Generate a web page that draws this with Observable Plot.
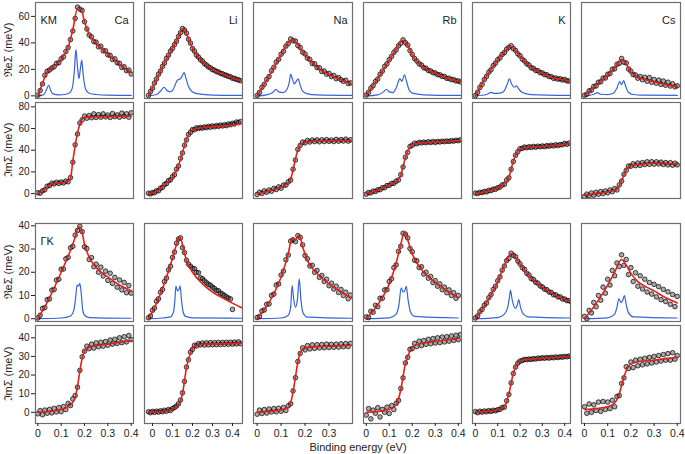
<!DOCTYPE html>
<html><head><meta charset="utf-8">
<script src="https://cdn.jsdelivr.net/npm/d3@7"></script>
<script src="https://cdn.jsdelivr.net/npm/@observablehq/plot@0.6"></script>
<style>
body{margin:0;background:#fff;}
#chart{position:relative;width:685px;height:454px;font-family:"Liberation Sans",Arial,Helvetica,sans-serif;color:#222;overflow:hidden;}
.ylab{position:absolute;width:120px;height:14px;line-height:14px;text-align:center;font-size:11px;transform:rotate(-90deg);}
.xlab{position:absolute;width:200px;text-align:center;font-size:11px;}
</style>
</head><body><div id="chart"></div>
<script>
// ---------- categories / ticks ----------
const elements = ["Ca","Li","Na","Rb","K","Cs"];
const directions = ["KM","ΓK"];
const xStart = [0,-0.02,0,0,0,0];
const xStep = 0.01;
const xDomains = [[-0.01,0.41],[-0.04,0.45],[-0.015,0.398],[-0.012,0.414],[-0.013,0.426],[-0.013,0.414]];
const yDomains = [[-2,70.5],[-4.5,84],[-1.2,41],[-6,46.6]];
const yTicks = [[0,20,40,60],[0,20,40,60,80],[0,10,20,30,40],[0,10,20,30,40]];
const xTicks = [[0,0.1,0.2,0.3,0.4],[0,0.1,0.2,0.3,0.4],[0,0.1,0.2,0.3],[0,0.1,0.2,0.3,0.4],[0,0.1,0.2,0.3,0.4],[0,0.1,0.2,0.3,0.4]];
const yLabels = ["ℜeΣ (meV)","ℑmΣ (meV)","ℜeΣ (meV)","ℑmΣ (meV)"];
const xLabel = "Binding energy (eV)";

// ---------- data points (step 0.01 from xStart) ----------
// KM, real part
const reKM_Ca = [0.5,4,9,15.5,18.5,19.5,21,22,24.5,25,28,29.5,33.5,36.5,42.5,49,58.5,67,65.5,64.5,56,50.5,46,44.5,41,40.5,37,37.5,34,34,31,30.5,27.5,28,25,24.5,21.5,22,19,19.5,16.5];
const reKM_Li = [0.3,3.2,5.8,9.7,12.8,16.3,18.8,22.2,24.8,28.3,30.7,33.8,35.8,38.7,41.3,44.8,47.7,50.8,49.7,47.3,42.8,39.8,35.7,33.7,30.8,29.2,27.3,26.2,24.3,23.2,21.8,21.2,19.8,19.4,18.3,18,17,16.7,15.8,15.5,14.6,14.4,13.3,13.2,12.4,12.1,11.4];
const reKM_Na = [0.3,2.6,6.4,8.7,12.4,14.6,18.9,21.6,25.5,27.6,31.4,33.6,37.5,39.6,43,41.6,41.4,38,36.5,33,31.6,28.5,27.5,24.4,24.2,21.4,21.2,18.4,18.8,16.4,17,14.6,15.4,13,13.8,12.2,11,11.8,9.3,9.8];
const reKM_Rb = [0.6,2.7,5.8,7.7,10.8,12.7,16.3,18.7,22.3,24.2,27.3,29.7,32.8,34.7,37.8,39.7,42.3,40.2,38.3,34.2,31.3,28.2,26.3,24.2,23.3,21.2,20.8,19.2,18.8,17.5,17.3,16,15.9,14.7,14.6,13.2,13.3,12.2,12.3,11.2,11.3,10.5];
const reKM_K  = [0.2,2.7,6.3,8.7,12.3,14.7,17.8,19.7,22.8,24.7,27.3,28.7,31.3,32.7,35.3,36.7,37.8,35.7,34.3,31.7,30.3,27.7,26.3,24.2,23.3,21.2,20.8,19.2,19,17.5,17.3,16,15.9,14.6,14.5,13.2,13.5,12.6,12.9,12,12.4,11.3,11.2];
const reKM_Cs = [0.4,1.2,3.8,4.3,7.1,7.5,10.3,10.6,13.4,13.5,16.3,16.8,20.1,20.4,23.8,24.6,28.2,25.4,24.8,20.3,18.6,16,15.8,13.3,14.6,12.2,14,11.1,13.8,10.2,12.4,9.5,11.9,8.6,11.2,8,10.3,7.4,9.1,6.8,7.6];
// KM, imaginary part
const imKM_Ca = [0.8,0.4,2.6,3.5,6.8,7.4,9.6,9,10.5,9.4,10.7,9.8,11.6,10.9,14.8,29,45,55,65,68,71.5,69.5,72,70,73.5,70.2,72.8,70.5,73.5,70.8,72.4,70.2,73.8,71,72.6,70.4,74.2,71.3,73.6,70.5,74.5];
const imKM_Li = [0.4,-0.3,1,0.8,2.7,2.6,5,5.8,8.5,9.3,12,12.7,15.6,17.5,22.5,25.5,32.6,37.5,44.6,49.5,54.5,56.6,59,58.9,60.6,60,61,60.4,61.4,60.8,62,61.2,62.4,61.6,62.7,62,63.2,62.4,63.5,62.7,64.2,63.5,64.8,64.2,66,65.4,66.4];
const imKM_Na = [-0.8,1.3,0.2,2.5,1.3,3.4,2.2,4.8,3.8,6.2,5,7.9,7.8,10.8,12.5,22.5,31,40.8,44.5,47.5,46.8,49,47.6,49.4,48,49.5,47.8,49.6,48,49.8,48.2,49.4,48,50,48.3,49.8,48.5,50.2,48.4,49.6];
const imKM_Rb = [-0.5,1,0.7,2.3,2,3.5,3.6,5.4,5.5,7.5,7.6,9.4,9.5,11.4,12.6,17.5,24.6,33.5,38,43.4,44.6,46.5,46,47.3,46.8,47.5,46.9,47.8,47.1,48,47.2,48.1,47.6,48.3,47.9,48.5,48.1,48.8,48.4,49.2,48.8,49.6];
const imKM_K  = [0.5,0.1,1.2,0.9,2,1.6,3,2.8,4.2,4,5.4,6,8,8.6,12.5,14.6,22.4,29.6,35.4,38.6,41.4,41.7,42.9,42.3,43.2,42.6,43.5,42.8,43.7,43.1,43.9,43.3,44.2,43.7,44.6,44,45,44.3,45.3,45,46.3,45.5,46.6];
const imKM_Cs = [-2.5,-0.5,-2,0.6,-1.5,1.2,-0.6,1.9,0,2.4,0.8,3.4,1.8,4.6,3.4,8,11.5,17.8,21.5,25.4,25.3,27.5,25.8,28.2,26,28.6,26.8,29.3,27,29.4,27.2,29.3,27.4,29,26.9,28.6,26.5,28.5,26.2,28,26.5];
// ΓK, real part
const reGK_Ca = [0.3,1.5,4.4,4.8,8.2,8.5,12.3,12.6,16.6,17,21.3,21.4,25.8,26.4,30.5,31.2,36,38,39.8,37.5,31,30.2,25.5,26.3,22.4,23.5,20,22.2,18.4,20.5,16.5,19.6,15.2,17.8,13.6,16.7,12.4,15.6,11.2,14.3,11];
const reGK_Li = [0.4,1.2,3.6,4.6,7.5,8.6,11.4,12.6,16,17.5,21,22.6,26.4,28.7,32.5,34.3,34.8,30.6,28.5,25.2,23.5,22.6,21.7,21.5,20,19.8,17.6,17.2,16.3,15.5,14.8,14.4,13.6,13,12.2,12,11,10.6,10,9.4,8.9,8.5,4];
const reGK_Na = [0.5,1,3.3,3.8,6.2,6.4,10,10.6,14.5,15,18.8,20.5,25.4,27.4,33.4,34,33.2,35.8,35,31.8,27.2,25.8,22.7,23,20,20.8,17.8,18.6,16,17,14.2,15.3,12.8,14,11.3,12.6,10,11.4,8.6,10.2];
const reGK_Rb = [0.8,0.5,3.2,2.8,5.8,5.2,8.8,8.8,12.4,12.5,16,17.2,22,23.2,29,31.2,36.8,36.4,34.8,30.2,28.8,25.2,24.9,22,22.4,19.2,20,17.4,18.2,15.6,16.4,14,15,12.5,13.6,11.2,12.4,10,11.2,8.8,10];
const reGK_K  = [0.3,1.2,3,4,5.8,6.8,9,10.4,12.6,14,16.3,18,20.9,22.7,25,26,28.2,27.3,26.7,24.8,23.6,22,21.2,19.6,18.8,17.3,16.9,15.7,15.3,14.1,13.7,12.7,12.5,11.5,11.3,10.3,10.3,9.4,9.4,8.5,8.5,7.8,7.8,7.1];
const reGK_Cs = [1,0,3.6,2.5,7,5.2,10,8,13.6,11,17,14.5,20.8,18.5,24,22.5,27.5,23,25.5,19,22,16,19.8,14,18.5,12.8,17,11.5,15.6,10.6,14.8,9.4,13.8,8.2,12.6,7.4,11.6,6.2,10.4,5.2,9.6];
// ΓK, imaginary part
const imGK_Ca = [-0.8,0.9,-1.3,1.2,-0.5,1.6,-0.3,2.1,0.2,2.6,0.4,3.1,1.5,4.8,3.6,7.2,9,13.5,22.5,29.8,32.8,35.5,34.2,36.6,34.5,37.3,35.2,37.6,35.5,38,36,38.8,36.6,39.2,37,40,37.4,40.6,37.8,41.2,39];
const imGK_Li = [0.3,-0.2,0.5,0,0.6,0.1,0.8,0.3,1.1,0.6,1.5,1,2,2.6,3.4,4.6,6.6,10.5,16.6,24.3,28.2,32.3,33.8,36,35.6,36.9,36.2,37.2,36.1,37.3,36.2,37.4,36.3,37.4,36.3,37.5,36.4,37.5,36.5,37.6,36.5,37.6,36.6,37.7,36.7,37.8,36.8];
const imGK_Na = [-1,1.2,-0.6,1.5,-0.4,1.8,0.2,2,0.3,2.2,0.6,2.6,1,3.5,4.6,11.5,18.6,27.3,31.6,34.6,33.5,35.8,34,36.2,34.3,36.3,34.6,36.4,34.7,36.6,34.8,36.5,34.9,36.6,35,36.8,35.2,36.9,35.3,37];
const imGK_Rb = [-1.5,2,-3.5,1.2,-0.5,2.5,-2.5,1.6,0,2.8,-0.6,3.6,1.5,4.8,6.4,12.8,18.5,26.5,29.5,33.8,34.2,37,35.3,38.2,35.8,38.5,36.5,39.2,36.8,39.6,37.2,40,37.4,40.4,37.8,40.6,38.2,41,38.6,41.4,39,41.8];
const imGK_K  = [0.4,-0.2,0.6,0.1,0.7,0.3,0.9,0.5,1.1,0.8,1.4,1.6,2.6,2.8,6.2,9.6,15.8,20.8,24.3,26.4,27.5,27.8,28.4,28.3,28.6,28.4,28.8,28.6,29.1,28.9,29.3,29,29.4,29.1,29.5,29.3,29.7,29.4,29.8,29.6,30,29.8,30.2,30];
const imGK_Cs = [3,-0.5,4.5,0,4,1,5.5,0.5,5.8,1.5,5.5,2,6.5,3,8.5,9,15.5,18.5,24.5,23.5,27,24,28,25,28.5,25.5,29,26,29.5,26.5,30,27,30.5,27.5,31,28,31.5,28,32,28.5,30.5];

// ---------- red fits [energy, meV] ----------
const fitReKM_Ca = [[0,0],[0.02,9.5],[0.04,18],[0.06,21],[0.1,27.5],[0.13,37],[0.15,50],[0.17,66],[0.185,65.5],[0.2,56],[0.22,46.5],[0.25,40],[0.3,31.5],[0.35,24],[0.4,17.5]];
const fitReKM_Li = [[-0.02,0],[0,6],[0.05,22],[0.1,36],[0.13,44.5],[0.15,50.5],[0.16,50],[0.18,43],[0.2,36],[0.22,31],[0.25,26],[0.3,20],[0.35,16.5],[0.4,13.5],[0.45,11]];
const fitReKM_Na = [[0,0],[0.05,15],[0.1,31],[0.13,40],[0.145,42.5],[0.16,41],[0.18,36],[0.2,31],[0.23,25],[0.27,19],[0.3,16],[0.35,12],[0.4,8.5]];
const fitReKM_Rb = [[0,0.5],[0.05,13],[0.1,27],[0.13,35],[0.16,42],[0.18,38],[0.2,31],[0.22,26],[0.25,21.5],[0.3,17],[0.35,13.5],[0.41,10.7]];
const fitReKM_K  = [[0,0],[0.05,15],[0.1,27],[0.13,33],[0.158,37.5],[0.17,36],[0.2,30],[0.22,26],[0.25,21.5],[0.3,17],[0.35,13.5],[0.4,12],[0.43,10.8]];
const fitReKM_Cs = [[0,0],[0.05,8],[0.1,15.5],[0.13,21],[0.16,27.5],[0.18,24],[0.2,18],[0.23,14],[0.27,12],[0.3,10.5],[0.35,8.5],[0.4,7]];
const fitImKM_Ca = [[0,0],[0.03,4],[0.06,9],[0.1,10],[0.13,11.5],[0.14,14],[0.15,30],[0.16,44],[0.17,56],[0.18,64],[0.19,69],[0.21,70.5],[0.3,71],[0.4,71.5]];
const fitImKM_Li = [[-0.02,0],[0,0.5],[0.03,3],[0.06,8],[0.1,15],[0.13,26],[0.15,38],[0.17,50],[0.19,57],[0.22,60],[0.3,61.5],[0.4,63],[0.45,64.8]];
const fitImKM_Na = [[0,0],[0.05,2.5],[0.1,6],[0.13,10],[0.14,13],[0.15,22],[0.16,32],[0.17,40],[0.18,45],[0.2,47.5],[0.25,48.5],[0.4,49]];
const fitImKM_Rb = [[0,0],[0.05,3],[0.1,8],[0.13,11],[0.15,17],[0.17,33],[0.19,43],[0.21,46],[0.3,47.5],[0.41,49]];
const fitImKM_K  = [[0,0],[0.05,2],[0.1,5],[0.13,9],[0.15,15],[0.17,30],[0.19,39],[0.21,42],[0.3,43.5],[0.43,46]];
const fitImKM_Cs = [[0,-1.5],[0.05,0],[0.1,1.5],[0.14,4],[0.16,12],[0.18,22],[0.2,26],[0.25,27],[0.3,28],[0.4,27]];
const fitReGK_Ca = [[0,0],[0.05,9],[0.1,20],[0.14,29.5],[0.16,35],[0.175,39.5],[0.185,39],[0.2,32],[0.22,26.5],[0.25,22],[0.3,18],[0.35,14.5],[0.4,12]];
const fitReGK_Li = [[-0.02,0],[0,3],[0.05,13],[0.1,26],[0.12,32],[0.133,35],[0.145,33.5],[0.16,28],[0.18,23],[0.2,20],[0.25,15],[0.3,11.5],[0.35,9],[0.4,6.7],[0.45,4.5]];
const fitReGK_Na = [[0,0],[0.05,7],[0.1,18],[0.13,28],[0.145,34.5],[0.16,34],[0.175,36],[0.19,31],[0.21,25],[0.25,19.5],[0.3,15],[0.35,11.5],[0.4,8.5]];
const fitReGK_Rb = [[0,0],[0.05,6],[0.1,15],[0.13,24],[0.15,32],[0.167,37.5],[0.18,34],[0.2,28],[0.22,24],[0.25,20],[0.3,15.5],[0.35,12],[0.4,9]];
const fitReGK_K  = [[0,0],[0.05,7],[0.1,16],[0.13,23],[0.16,28],[0.18,26.5],[0.2,23.5],[0.22,21],[0.25,17.5],[0.3,13.5],[0.35,10.5],[0.4,8.3],[0.43,7.3]];
const fitReGK_Cs = [[0,0],[0.05,6.5],[0.1,14.5],[0.13,20],[0.16,25.5],[0.18,23],[0.2,19.5],[0.23,16],[0.27,13.5],[0.3,12],[0.35,9],[0.4,6.8]];
const fitImGK_Ca = [[0,0],[0.05,0.5],[0.1,1.5],[0.14,4],[0.16,8],[0.17,14],[0.18,22],[0.19,29],[0.2,33],[0.22,35],[0.3,36.5],[0.4,38.5]];
const fitImGK_Li = [[-0.02,0],[0.05,0.3],[0.1,1.5],[0.13,4],[0.15,10],[0.17,24],[0.19,32],[0.21,35.5],[0.25,36.5],[0.45,37]];
const fitImGK_Na = [[0,0],[0.05,0.5],[0.1,1.3],[0.13,2.5],[0.14,5],[0.15,11],[0.16,19],[0.17,27],[0.18,32],[0.19,34],[0.22,35],[0.3,35.5],[0.4,36]];
const fitImGK_Rb = [[0,0],[0.05,0.5],[0.1,1.5],[0.13,4],[0.15,12],[0.17,26],[0.19,33],[0.21,36],[0.3,38],[0.4,39.5]];
const fitImGK_K  = [[0,0],[0.05,0.5],[0.1,1.2],[0.13,3],[0.15,10],[0.17,21],[0.19,26.5],[0.21,28],[0.3,29],[0.43,30]];
const fitImGK_Cs = [[0,1.5],[0.05,2],[0.1,3],[0.13,5],[0.15,10],[0.17,19],[0.19,25],[0.21,26.5],[0.3,28],[0.4,29.5]];

// ---------- blue curves (real-part panels) ----------
const blueKM_Ca = [[0,0],[0.02,0.5],[0.03,2],[0.04,6],[0.047,8],[0.055,4],[0.065,1.5],[0.09,0.8],[0.12,1.2],[0.14,3],[0.15,8],[0.157,20],[0.163,35],[0.17,22],[0.176,13],[0.182,20],[0.188,27],[0.195,15],[0.205,5],[0.22,2],[0.25,1],[0.3,0.5],[0.4,0.3]];
const blueKM_Li = [[-0.02,0],[0.02,1],[0.04,3.5],[0.058,6.5],[0.07,4.5],[0.085,3],[0.1,4],[0.115,9],[0.125,12],[0.135,12.5],[0.145,14],[0.158,17.5],[0.168,13],[0.18,7],[0.2,3],[0.23,1.5],[0.3,0.6],[0.45,0.3]];
const blueKM_Na = [[0,0],[0.04,0.8],[0.065,2.5],[0.079,5],[0.09,3],[0.11,2.5],[0.125,5],[0.135,11],[0.14,16.5],[0.147,13],[0.155,9],[0.163,11],[0.171,12.8],[0.18,8],[0.19,3.5],[0.21,1.5],[0.25,0.7],[0.4,0.3]];
const blueKM_Rb = [[0,0],[0.05,0.8],[0.075,3],[0.088,5],[0.1,3],[0.115,2.5],[0.13,6],[0.14,11],[0.146,13],[0.155,11],[0.166,15.8],[0.175,11],[0.185,5],[0.2,2],[0.25,0.8],[0.41,0.3]];
const blueKM_K  = [[0,0],[0.05,1],[0.07,2.7],[0.085,1.8],[0.11,2],[0.13,4],[0.143,9],[0.152,12.8],[0.162,9],[0.174,6.5],[0.184,7.5],[0.195,5],[0.21,2.5],[0.25,1],[0.43,0.3]];
const blueKM_Cs = [[0,0],[0.04,1.2],[0.055,2.5],[0.07,1.2],[0.1,1],[0.125,2],[0.14,6],[0.152,10.7],[0.16,8.5],[0.169,11.5],[0.178,7],[0.19,2.5],[0.21,1],[0.25,0.5],[0.4,0.3]];
const blueGK_Ca = [[0,0],[0.1,0.3],[0.14,1.2],[0.155,4],[0.163,10],[0.168,14.5],[0.174,14],[0.18,15.2],[0.186,11],[0.192,4],[0.2,1.5],[0.22,0.5],[0.4,0.2]];
const blueGK_Li = [[-0.02,0],[0.05,0.3],[0.09,0.8],[0.105,3],[0.112,8],[0.117,14],[0.125,12],[0.132,12.5],[0.138,14.2],[0.145,8],[0.153,3],[0.165,1],[0.2,0.4],[0.45,0.2]];
const blueGK_Na = [[0,0],[0.1,0.3],[0.13,1.5],[0.14,5],[0.146,14.3],[0.152,9],[0.16,5],[0.168,8],[0.176,17.2],[0.183,8],[0.192,2.5],[0.21,0.7],[0.4,0.2]];
const blueGK_Rb = [[0,0],[0.1,0.4],[0.13,2],[0.142,6],[0.152,13.3],[0.16,11.5],[0.167,12],[0.174,13.9],[0.182,8],[0.192,3],[0.21,1],[0.4,0.3]];
const blueGK_K  = [[0,0],[0.1,0.5],[0.13,2],[0.145,5],[0.152,9],[0.157,12.2],[0.165,8],[0.178,4.5],[0.188,6],[0.194,8.2],[0.202,5],[0.215,2],[0.24,0.8],[0.43,0.3]];
const blueGK_Cs = [[0,0],[0.1,0.4],[0.13,2],[0.14,5],[0.148,8.6],[0.158,7],[0.165,8],[0.172,10],[0.18,6],[0.19,2.5],[0.21,0.8],[0.4,0.3]];

// ---------- assemble ----------
const dataRows = [
  [reKM_Ca,reKM_Li,reKM_Na,reKM_Rb,reKM_K,reKM_Cs],
  [imKM_Ca,imKM_Li,imKM_Na,imKM_Rb,imKM_K,imKM_Cs],
  [reGK_Ca,reGK_Li,reGK_Na,reGK_Rb,reGK_K,reGK_Cs],
  [imGK_Ca,imGK_Li,imGK_Na,imGK_Rb,imGK_K,imGK_Cs]];
const fitRows = [
  [fitReKM_Ca,fitReKM_Li,fitReKM_Na,fitReKM_Rb,fitReKM_K,fitReKM_Cs],
  [fitImKM_Ca,fitImKM_Li,fitImKM_Na,fitImKM_Rb,fitImKM_K,fitImKM_Cs],
  [fitReGK_Ca,fitReGK_Li,fitReGK_Na,fitReGK_Rb,fitReGK_K,fitReGK_Cs],
  [fitImGK_Ca,fitImGK_Li,fitImGK_Na,fitImGK_Rb,fitImGK_K,fitImGK_Cs]];
const blueRows = [
  [blueKM_Ca,blueKM_Li,blueKM_Na,blueKM_Rb,blueKM_K,blueKM_Cs], null,
  [blueGK_Ca,blueGK_Li,blueGK_Na,blueGK_Rb,blueGK_K,blueGK_Cs], null];

// layout (pixels)
const colL = [35,144,253,363,472,581], colR = [133,242,352,461,570,680];
const rowT = [2,102,223,325], rowB = [98,198,321,423];
const font = '"Liberation Sans", Arial, Helvetica, sans-serif';
const chart = document.getElementById("chart");
const fmtX = d => d === 0 ? "0" : String(d);

for (let r = 0; r < 4; r++) {
  for (let c = 0; c < 6; c++) {
    const mL = c === 0 ? 35 : 0, mB = r === 3 ? 24 : 0;
    const w = colR[c] - colL[c], h = rowB[r] - rowT[r];
    const pts = dataRows[r][c].map((v, i) => ({e: xStart[c] + i * xStep, v}));
    const marks = [];
    if (blueRows[r]) marks.push(Plot.line(blueRows[r][c], {x: d => d[0], y: d => d[1], stroke: "#3563dc", strokeWidth: 1.2, curve: "monotone-x", clip: true}));
    marks.push(Plot.dot(pts, {x: "e", y: "v", r: 2.3, stroke: "#000", strokeWidth: 0.8, strokeOpacity: 0.9, fill: "#444", fillOpacity: 0.45, clip: true}));
    marks.push(Plot.line(fitRows[r][c], {x: d => d[0], y: d => d[1], stroke: "#e3211c", strokeWidth: 1.6, curve: "monotone-x", clip: true}));
    marks.push(Plot.frame({stroke: "#6e6e6e", strokeWidth: 1.2}));
    if (c === 0) marks.push(Plot.axisY({ticks: yTicks[r], tickSize: 4, tickPadding: 2, fontSize: 10, label: null}));
    if (r === 3) marks.push(Plot.axisX({ticks: xTicks[c], tickFormat: fmtX, tickSize: 3, tickPadding: 3, fontSize: 10.5, label: null}));
    if (r === 0) marks.push(Plot.text([elements[c]], {frameAnchor: "top-right", dx: -5, dy: 14, textAnchor: "end", fontSize: 11, fill: "#222"}));
    if (c === 0 && (r === 0 || r === 2)) marks.push(Plot.text([directions[r / 2]], {frameAnchor: "top-left", dx: 5, dy: 14, textAnchor: "start", fontSize: 11, fill: "#222"}));
    const svg = Plot.plot({
      width: w + mL, height: h + mB,
      marginLeft: mL, marginRight: 0, marginTop: 0, marginBottom: mB,
      x: {domain: xDomains[c], axis: null},
      y: {domain: yDomains[r], axis: null},
      style: {fontFamily: font, fontSize: "10px", color: "#222", background: "transparent", overflow: "visible"},
      marks
    });
    svg.style.position = "absolute";
    svg.style.left = (colL[c] - mL) + "px";
    svg.style.top = rowT[r] + "px";
    chart.appendChild(svg);
  }
}
// y-axis labels
for (let r = 0; r < 4; r++) {
  const d = document.createElement("div");
  d.className = "ylab";
  d.textContent = yLabels[r];
  const cy = (rowT[r] + rowB[r]) / 2;
  d.style.left = (8 - 60) + "px";
  d.style.top = (cy - 7) + "px";
  chart.appendChild(d);
}
const xl = document.createElement("div");
xl.className = "xlab";
xl.textContent = xLabel;
xl.style.left = (358 - 100) + "px";
xl.style.top = "441px";
chart.appendChild(xl);
</script>
</body></html>
